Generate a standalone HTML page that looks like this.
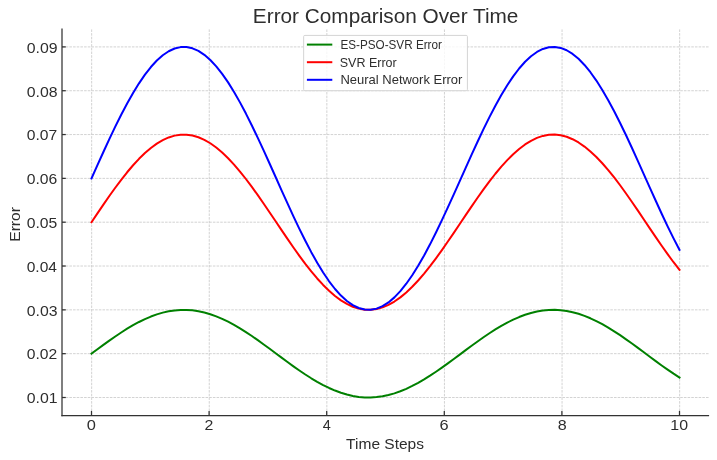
<!DOCTYPE html>
<html><head><meta charset="utf-8"><style>
html,body{margin:0;padding:0;background:#fff;width:717px;height:460px;overflow:hidden}
svg{display:block}
text{font-family:"Liberation Sans", sans-serif;fill:#2e2e2e}
</style></head><body>
<svg width="717" height="460" viewBox="0 0 717 460">
<rect width="717" height="460" fill="#fff"/>
<g stroke="#c8c8c8" stroke-width="0.8" stroke-dasharray="2.57 1.11"><line x1="91.65" y1="415.5" x2="91.65" y2="29.3" stroke-dashoffset="-0.8"/><line x1="209.25" y1="415.5" x2="209.25" y2="29.3" stroke-dashoffset="-0.8"/><line x1="326.85" y1="415.5" x2="326.85" y2="29.3" stroke-dashoffset="-0.8"/><line x1="444.45" y1="415.5" x2="444.45" y2="29.3" stroke-dashoffset="-0.8"/><line x1="562.05" y1="415.5" x2="562.05" y2="29.3" stroke-dashoffset="-0.8"/><line x1="679.65" y1="415.5" x2="679.65" y2="29.3" stroke-dashoffset="-0.8"/><line x1="62.0" y1="397.50" x2="709.1" y2="397.50"/><line x1="62.0" y1="353.67" x2="709.1" y2="353.67"/><line x1="62.0" y1="309.85" x2="709.1" y2="309.85"/><line x1="62.0" y1="266.02" x2="709.1" y2="266.02"/><line x1="62.0" y1="222.20" x2="709.1" y2="222.20"/><line x1="62.0" y1="178.38" x2="709.1" y2="178.38"/><line x1="62.0" y1="134.55" x2="709.1" y2="134.55"/><line x1="62.0" y1="90.72" x2="709.1" y2="90.72"/><line x1="62.0" y1="46.90" x2="709.1" y2="46.90"/></g>
<polyline fill="none" stroke="#008000" stroke-width="2" stroke-linejoin="round" stroke-linecap="square" points="91.50,353.67 97.44,349.26 103.38,344.88 109.32,340.60 115.26,336.45 121.20,332.47 127.14,328.71 133.08,325.21 139.02,321.99 144.95,319.10 150.89,316.56 156.83,314.40 162.77,312.64 168.71,311.30 174.65,310.39 180.59,309.92 186.53,309.90 192.47,310.32 198.41,311.18 204.35,312.48 210.29,314.20 216.23,316.32 222.17,318.82 228.11,321.68 234.05,324.86 239.98,328.34 245.92,332.08 251.86,336.03 257.80,340.17 263.74,344.44 269.68,348.81 275.62,353.22 281.56,357.65 287.50,362.03 293.44,366.32 299.38,370.49 305.32,374.48 311.26,378.27 317.20,381.80 323.14,385.05 329.08,387.97 335.02,390.55 340.95,392.75 346.89,394.55 352.83,395.94 358.77,396.89 364.71,397.40 370.65,397.47 376.59,397.09 382.53,396.27 388.47,395.02 394.41,393.34 400.35,391.26 406.29,388.80 412.23,385.97 418.17,382.82 424.11,379.37 430.05,375.66 435.98,371.73 441.92,367.61 447.86,363.35 453.80,358.99 459.74,354.58 465.68,350.15 471.62,345.77 477.56,341.46 483.50,337.28 489.44,333.26 495.38,329.46 501.32,325.90 507.26,322.62 513.20,319.66 519.14,317.05 525.08,314.81 531.02,312.96 536.95,311.54 542.89,310.54 548.83,309.98 554.77,309.86 560.71,310.20 566.65,310.97 572.59,312.18 578.53,313.82 584.47,315.86 590.41,318.29 596.35,321.07 602.29,324.19 608.23,327.61 614.17,331.30 620.11,335.21 626.05,339.31 631.98,343.56 637.92,347.91 643.86,352.32 649.80,356.75 655.74,361.14 661.68,365.46 667.62,369.65 673.56,373.69 679.50,377.52"/>
<polyline fill="none" stroke="#ff0000" stroke-width="2" stroke-linejoin="round" stroke-linecap="square" points="91.50,222.20 97.44,213.36 103.38,204.61 109.32,196.04 115.26,187.74 121.20,179.79 127.14,172.27 133.08,165.26 139.02,158.83 144.95,153.05 150.89,147.97 156.83,143.65 162.77,140.13 168.71,137.44 174.65,135.62 180.59,134.69 186.53,134.64 192.47,135.49 198.41,137.22 204.35,139.82 210.29,143.25 216.23,147.50 222.17,152.50 228.11,158.21 234.05,164.58 239.98,171.53 245.92,179.00 251.86,186.91 257.80,195.19 263.74,203.73 269.68,212.47 275.62,221.30 281.56,230.14 287.50,238.90 293.44,247.49 299.38,255.83 305.32,263.82 311.26,271.39 317.20,278.45 323.14,284.94 329.08,290.79 335.02,295.95 340.95,300.35 346.89,303.95 352.83,306.72 358.77,308.63 364.71,309.66 370.65,309.80 376.59,309.04 382.53,307.40 388.47,304.89 394.41,301.53 400.35,297.37 406.29,292.44 412.23,286.80 418.17,280.50 424.11,273.60 430.05,266.18 435.98,258.31 441.92,250.07 447.86,241.55 453.80,232.83 459.74,224.00 465.68,215.16 471.62,206.38 477.56,197.77 483.50,189.41 489.44,181.38 495.38,173.76 501.32,166.64 507.26,160.09 513.20,154.17 519.14,148.94 525.08,144.46 531.02,140.78 536.95,137.92 542.89,135.92 548.83,134.80 554.77,134.58 560.71,135.24 566.65,136.80 572.59,139.22 578.53,142.49 584.47,146.57 590.41,151.42 596.35,157.00 602.29,163.23 608.23,170.07 614.17,177.45 620.11,185.27 626.05,193.48 631.98,201.97 637.92,210.68 643.86,219.50 649.80,228.35 655.74,237.13 661.68,245.76 667.62,254.16 673.56,262.22 679.50,269.88"/>
<polyline fill="none" stroke="#0000ff" stroke-width="2" stroke-linejoin="round" stroke-linecap="square" points="91.50,178.38 97.44,165.12 103.38,151.99 109.32,139.14 115.26,126.69 121.20,114.76 127.14,103.48 133.08,92.97 139.02,83.32 144.95,74.65 150.89,67.03 156.83,60.55 162.77,55.27 168.71,51.24 174.65,48.51 180.59,47.10 186.53,47.04 192.47,48.31 198.41,50.90 204.35,54.80 210.29,59.95 216.23,66.32 222.17,73.82 228.11,82.39 234.05,91.94 239.98,102.38 245.92,113.58 251.86,125.45 257.80,137.85 263.74,150.67 269.68,163.77 275.62,177.02 281.56,190.29 287.50,203.43 293.44,216.32 299.38,228.82 305.32,240.80 311.26,252.15 317.20,262.75 323.14,272.49 329.08,281.27 335.02,288.99 340.95,295.60 346.89,301.00 352.83,305.16 358.77,308.02 364.71,309.56 370.65,309.77 376.59,308.63 382.53,306.17 388.47,302.41 394.41,297.38 400.35,291.13 406.29,283.74 412.23,275.27 418.17,265.82 424.11,255.47 430.05,244.34 435.98,232.54 441.92,220.18 447.86,207.40 453.80,194.32 459.74,181.08 465.68,167.81 471.62,154.65 477.56,141.73 483.50,129.18 489.44,117.14 495.38,105.72 501.32,95.04 507.26,85.21 513.20,76.33 519.14,68.49 525.08,61.77 531.02,56.24 536.95,51.96 542.89,48.96 548.83,47.28 554.77,46.94 560.71,47.94 566.65,50.27 572.59,53.90 578.53,58.81 584.47,64.93 590.41,72.21 596.35,80.57 602.29,89.93 608.23,100.19 614.17,111.24 620.11,122.98 626.05,135.29 631.98,148.04 637.92,161.09 643.86,174.32 649.80,187.59 655.74,200.77 661.68,213.72 667.62,226.31 673.56,238.41 679.50,249.90"/>
<g stroke="#333333" stroke-width="1.25" fill="none"><line x1="62.0" y1="28.6" x2="62.0" y2="416.125"/><line x1="61.375" y1="415.5" x2="709.1" y2="415.5"/><line x1="91.50" y1="415.5" x2="91.50" y2="410.9"/><line x1="209.10" y1="415.5" x2="209.10" y2="410.9"/><line x1="326.70" y1="415.5" x2="326.70" y2="410.9"/><line x1="444.30" y1="415.5" x2="444.30" y2="410.9"/><line x1="561.90" y1="415.5" x2="561.90" y2="410.9"/><line x1="679.50" y1="415.5" x2="679.50" y2="410.9"/><line x1="62.0" y1="397.50" x2="65.8" y2="397.50"/><line x1="62.0" y1="353.67" x2="65.8" y2="353.67"/><line x1="62.0" y1="309.85" x2="65.8" y2="309.85"/><line x1="62.0" y1="266.02" x2="65.8" y2="266.02"/><line x1="62.0" y1="222.20" x2="65.8" y2="222.20"/><line x1="62.0" y1="178.38" x2="65.8" y2="178.38"/><line x1="62.0" y1="134.55" x2="65.8" y2="134.55"/><line x1="62.0" y1="90.72" x2="65.8" y2="90.72"/><line x1="62.0" y1="46.90" x2="65.8" y2="46.90"/></g>
<rect x="303.65" y="35.4" width="163.75" height="55.3" rx="1.2" fill="#fff" fill-opacity="0.8" stroke="#d4d4d4" stroke-width="1"/>
<line x1="306.9" y1="44.6" x2="332.3" y2="44.6" stroke="#008000" stroke-width="2"/><line x1="306.9" y1="62.2" x2="332.3" y2="62.2" stroke="#ff0000" stroke-width="2"/><line x1="306.9" y1="79.8" x2="332.3" y2="79.8" stroke="#0000ff" stroke-width="2"/>
<g style="will-change:transform"><text x="252.87" y="23.00" font-size="20.30" textLength="265.51" lengthAdjust="spacingAndGlyphs">Error Comparison Over Time</text>
<text x="26.70" y="403.00" font-size="15.00" textLength="30.82" lengthAdjust="spacingAndGlyphs">0.01</text>
<text x="26.70" y="359.00" font-size="15.00" textLength="30.50" lengthAdjust="spacingAndGlyphs">0.02</text>
<text x="26.72" y="316.00" font-size="15.00" textLength="30.76" lengthAdjust="spacingAndGlyphs">0.03</text>
<text x="26.71" y="272.00" font-size="15.00" textLength="30.28" lengthAdjust="spacingAndGlyphs">0.04</text>
<text x="26.69" y="228.00" font-size="15.00" textLength="30.57" lengthAdjust="spacingAndGlyphs">0.05</text>
<text x="26.68" y="184.00" font-size="15.00" textLength="30.54" lengthAdjust="spacingAndGlyphs">0.06</text>
<text x="26.70" y="140.00" font-size="15.00" textLength="30.50" lengthAdjust="spacingAndGlyphs">0.07</text>
<text x="26.72" y="97.00" font-size="15.00" textLength="30.80" lengthAdjust="spacingAndGlyphs">0.08</text>
<text x="26.71" y="53.00" font-size="15.00" textLength="30.83" lengthAdjust="spacingAndGlyphs">0.09</text>
<text x="86.88" y="430.00" font-size="15.00" textLength="9.13" lengthAdjust="spacingAndGlyphs">0</text>
<text x="204.57" y="430.00" font-size="15.00" textLength="8.86" lengthAdjust="spacingAndGlyphs">2</text>
<text x="322.79" y="430.00" font-size="15.00" textLength="8.06" lengthAdjust="spacingAndGlyphs">4</text>
<text x="439.52" y="430.00" font-size="15.00" textLength="9.10" lengthAdjust="spacingAndGlyphs">6</text>
<text x="557.67" y="430.00" font-size="15.00" textLength="8.95" lengthAdjust="spacingAndGlyphs">8</text>
<text x="670.36" y="430.00" font-size="15.00" textLength="17.71" lengthAdjust="spacingAndGlyphs">10</text>
<text x="346.13" y="449.00" font-size="15.40" textLength="77.87" lengthAdjust="spacingAndGlyphs">Time Steps</text>
<text transform="translate(20.00 241.68) rotate(-90)" x="0" y="0" font-size="14.90" textLength="34.55" lengthAdjust="spacingAndGlyphs">Error</text>
<text x="340.38" y="49.00" font-size="12.20" textLength="101.57" lengthAdjust="spacingAndGlyphs">ES-PSO-SVR Error</text>
<text x="339.72" y="67.00" font-size="12.20" textLength="57.00" lengthAdjust="spacingAndGlyphs">SVR Error</text>
<text x="340.40" y="84.00" font-size="12.20" textLength="122.02" lengthAdjust="spacingAndGlyphs">Neural Network Error</text>
</g>
</svg>
</body></html>
